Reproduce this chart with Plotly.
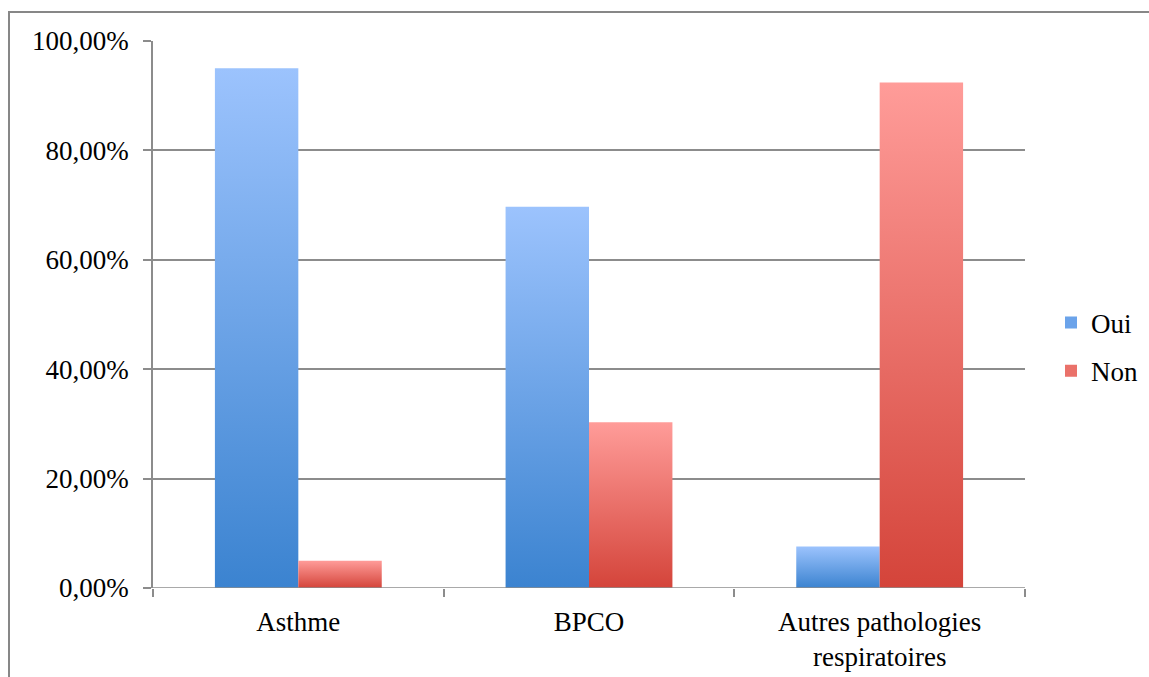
import plotly.graph_objects as go

# Données
categories = ["Asthme", "BPCO", "Autres pathologies<br>respiratoires"]
oui = [0.950, 0.697, 0.076]
non = [0.050, 0.303, 0.924]
y_ticks = [0, 0.2, 0.4, 0.6, 0.8, 1.0]

BLUE_LIGHT, BLUE_MID, BLUE_DARK = "#9cc3fd", "#6ba3ea", "#3b83d0"
RED_LIGHT, RED_MID, RED_DARK = "#ff9c99", "#ea716a", "#d4443a"
GRID = "#8c8c8c"
FONT = "Liberation Serif"
FS = 27

W, H = 1149, 677
L, R, T, B = 153, 124, 41, 89
PW, PH = W - L - R, H - T - B

BAR_W = 0.287  # largeur d'une barre, en unités de catégorie

fig = go.Figure()


def add_bar(center, left, value, light, dark, name):
    x0 = center - BAR_W if left else center
    x1 = x0 + BAR_W
    fig.add_trace(go.Scatter(
        x=[x0, x0, x1, x1, x0],
        y=[0, value, value, 0, 0],
        mode="lines",
        line=dict(width=0),
        fill="toself",
        fillcolor=light,
        fillgradient=dict(type="vertical", start=0, stop=value,
                          colorscale=[[0, dark], [1, light]]),
        name=name,
        legendgroup=name,
        showlegend=False,
        hoverinfo="skip",
    ))


for i, (o, n) in enumerate(zip(oui, non)):
    add_bar(i, True, o, BLUE_LIGHT, BLUE_DARK, "Oui")
    add_bar(i, False, n, RED_LIGHT, RED_DARK, "Non")

# Entrées de légende (carrés pleins)
for name, col in (("Oui", BLUE_MID), ("Non", RED_MID)):
    fig.add_trace(go.Bar(x=[None], y=[None], name=name, legendgroup=name,
                         marker=dict(color=col, line=dict(width=0)),
                         showlegend=True, hoverinfo="skip"))

fig.update_layout(
    width=W, height=H,
    margin=dict(l=L, r=R, t=T, b=B, pad=0, autoexpand=False),
    paper_bgcolor="white",
    plot_bgcolor="white",
    separators=", ",
    font=dict(family=FONT, size=FS, color="black"),
    showlegend=True,
    legend=dict(
        xref="container", yref="container",
        x=1051 / W, y=1 - 347 / H,
        xanchor="left", yanchor="middle",
        font=dict(family=FONT, size=FS),
        itemwidth=30, tracegroupgap=10,
        bgcolor="rgba(0,0,0,0)",
    ),
    xaxis=dict(
        range=[-0.5, 2.5],
        tickmode="array",
        tickvals=list(range(len(categories))),
        ticktext=categories,
        ticks="",
        showgrid=False,
        zeroline=False,
        showline=False,
        minor=dict(tick0=-0.5, dtick=1, ticks="outside", ticklen=8,
                   tickwidth=1.5, tickcolor=GRID, showgrid=False),
        ticklabelstandoff=15,
        automargin=False,
        fixedrange=True,
    ),
    yaxis=dict(
        range=[0, 1],
        tickmode="array",
        tickvals=y_ticks,
        tickformat=".2%",
        ticks="outside",
        ticklen=8,
        tickwidth=1.5,
        tickcolor=GRID,
        showgrid=True,
        gridcolor=GRID,
        gridwidth=1.5,
        showline=True,
        linecolor=GRID,
        linewidth=1.5,
        zeroline=False,
        ticklabelstandoff=9,
        automargin=False,
        fixedrange=True,
    ),
)

# Axe horizontal (ligne de base)
fig.add_shape(type="line", xref="paper", yref="y", x0=0, x1=1, y0=0, y1=0,
              line=dict(color=GRID, width=1.5), layer="above")

# Cadre extérieur du graphique
fig.add_shape(type="rect", xref="paper", yref="paper",
              x0=(9 - L) / PW, x1=(1165 - L) / PW,
              y0=(H - B - 695) / PH,
              y1=(H - B - 12) / PH,
              line=dict(color="#878787", width=2), fillcolor="rgba(0,0,0,0)")

fig.write_html("out.html")
